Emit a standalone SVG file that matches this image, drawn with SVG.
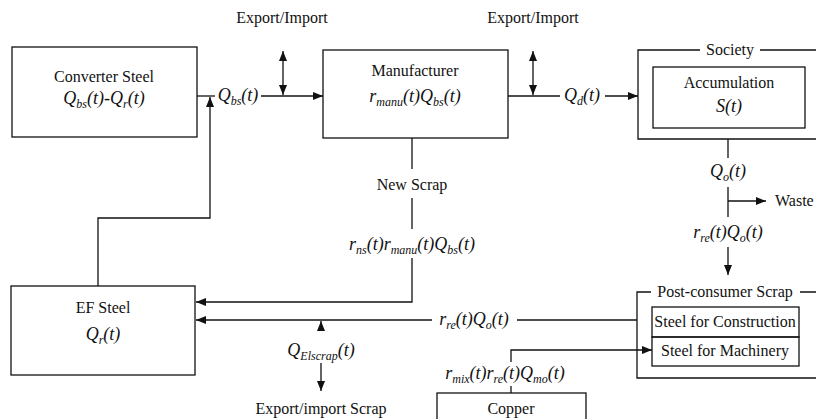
<svg xmlns="http://www.w3.org/2000/svg" width="816" height="419" viewBox="0 0 816 419">
<defs>
<marker id="ah" viewBox="0 0 10 8" refX="10" refY="4" markerWidth="10" markerHeight="8" markerUnits="userSpaceOnUse" orient="auto-start-reverse">
<path d="M0,0 L10,4 L0,8 Z" fill="#111"/>
</marker>
<style>
.box{fill:none;stroke:#111;stroke-width:1.3}
.ln{fill:none;stroke:#111;stroke-width:1.3}
.t{font-family:"Liberation Serif","Times New Roman",serif;font-size:16px;fill:#111;text-anchor:middle}
.m{font-family:"Liberation Serif","Times New Roman",serif;font-size:18px;font-style:italic;fill:#111;text-anchor:middle}
.s{font-size:12px}
</style>
</defs>
<rect width="816" height="419" fill="#fff"/>

<g id="converter">
<rect class="box" x="12" y="47" width="185" height="90"/>
<text class="t" x="104" y="82">Converter Steel</text>
<text class="m" x="104" y="104">Q<tspan class="s" dy="4">bs</tspan><tspan dy="-4">(t)-Q</tspan><tspan class="s" dy="4">r</tspan><tspan dy="-4">(t)</tspan></text>
</g>

<g id="manufacturer">
<rect class="box" x="323" y="50" width="185" height="88"/>
<text class="t" x="415" y="76">Manufacturer</text>
<text class="m" x="415" y="102">r<tspan class="s" dy="4">manu</tspan><tspan dy="-4">(t)Q</tspan><tspan class="s" dy="4">bs</tspan><tspan dy="-4">(t)</tspan></text>
</g>

<g id="society">
<path class="box" d="M700,50 H638 V139 H830 M760,50 H830"/>
<text class="t" x="730" y="55">Society</text>
</g>

<g id="accumulation">
<rect class="box" x="653" y="67" width="152" height="61"/>
<text class="t" x="729" y="88">Accumulation</text>
<text class="m" x="729" y="112">S(t)</text>
</g>

<g id="postconsumer">
<path class="box" d="M651,292 H637 V378 H830 M800,292 H830"/>
<text class="t" x="725" y="297">Post-consumer Scrap</text>
</g>

<g id="construction">
<rect class="box" x="652" y="307" width="147" height="30"/>
<text class="t" x="725" y="327">Steel for Construction</text>
</g>

<g id="machinery">
<rect class="box" x="652" y="337" width="147" height="29"/>
<text class="t" x="725" y="356">Steel for Machinery</text>
</g>

<g id="efsteel">
<rect class="box" x="11" y="286" width="184" height="89"/>
<text class="t" x="103" y="313">EF Steel</text>
<text class="m" x="103" y="340">Q<tspan class="s" dy="4">r</tspan><tspan dy="-4">(t)</tspan></text>
</g>

<g id="copper">
<rect class="box" x="437" y="393" width="149" height="40"/>
<text class="t" x="511" y="414">Copper</text>
</g>

<g id="connectors">
<line class="ln" x1="197" y1="96" x2="215" y2="96"/>
<line class="ln" x1="261" y1="96" x2="323" y2="96" marker-end="url(#ah)"/>
<polyline class="ln" points="98,286 98,218 210,218 210,97" marker-end="url(#ah)"/>
<line class="ln" x1="283" y1="51" x2="283" y2="95" marker-start="url(#ah)" marker-end="url(#ah)"/>
<line class="ln" x1="508" y1="96" x2="560" y2="96"/>
<line class="ln" x1="605" y1="96" x2="638" y2="96" marker-end="url(#ah)"/>
<line class="ln" x1="533" y1="51" x2="533" y2="95" marker-start="url(#ah)" marker-end="url(#ah)"/>
<line class="ln" x1="728" y1="139" x2="728" y2="158"/>
<line class="ln" x1="728" y1="187" x2="728" y2="217"/>
<line class="ln" x1="728" y1="201" x2="766" y2="201" marker-end="url(#ah)"/>
<line class="ln" x1="728" y1="247" x2="728" y2="275" marker-end="url(#ah)"/>
<line class="ln" x1="637" y1="320" x2="517" y2="320"/>
<line class="ln" x1="432" y1="320" x2="196" y2="320" marker-end="url(#ah)"/>
<line class="ln" x1="412" y1="138" x2="412" y2="169"/>
<line class="ln" x1="412" y1="198" x2="412" y2="229"/>
<polyline class="ln" points="412,258 412,302 196,302" marker-end="url(#ah)"/>
<line class="ln" x1="321" y1="331" x2="321" y2="321" marker-end="url(#ah)"/>
<line class="ln" x1="321" y1="363" x2="321" y2="391" marker-end="url(#ah)"/>
<polyline class="ln" points="511,362 511,350 652,350" marker-end="url(#ah)"/>
<line class="ln" x1="511" y1="386" x2="511" y2="393"/>
</g>

<g id="labels">
<text class="t" x="282" y="23">Export/Import</text>
<text class="t" x="533" y="23">Export/Import</text>
<text class="m" x="238" y="101">Q<tspan class="s" dy="4">bs</tspan><tspan dy="-4">(t)</tspan></text>
<text class="m" x="582" y="101">Q<tspan class="s" dy="4">d</tspan><tspan dy="-4">(t)</tspan></text>
<text class="m" x="728" y="177">Q<tspan class="s" dy="4">o</tspan><tspan dy="-4">(t)</tspan></text>
<text class="t" x="775" y="206" style="text-anchor:start">Waste</text>
<text class="m" x="728" y="238">r<tspan class="s" dy="4">re</tspan><tspan dy="-4">(t)Q</tspan><tspan class="s" dy="4">o</tspan><tspan dy="-4">(t)</tspan></text>
<text class="t" x="412" y="190">New Scrap</text>
<text class="m" x="412" y="250">r<tspan class="s" dy="4">ns</tspan><tspan dy="-4">(t)r</tspan><tspan class="s" dy="4">manu</tspan><tspan dy="-4">(t)Q</tspan><tspan class="s" dy="4">bs</tspan><tspan dy="-4">(t)</tspan></text>
<text class="m" x="474" y="325">r<tspan class="s" dy="4">re</tspan><tspan dy="-4">(t)Q</tspan><tspan class="s" dy="4">o</tspan><tspan dy="-4">(t)</tspan></text>
<text class="m" x="321" y="356">Q<tspan class="s" dy="4">Elscrap</tspan><tspan dy="-4">(t)</tspan></text>
<text class="t" x="321" y="414">Export/import Scrap</text>
<text class="m" x="505" y="379">r<tspan class="s" dy="4">mix</tspan><tspan dy="-4">(t)r</tspan><tspan class="s" dy="4">re</tspan><tspan dy="-4">(t)Q</tspan><tspan class="s" dy="4">mo</tspan><tspan dy="-4">(t)</tspan></text>
</g>
</svg>
